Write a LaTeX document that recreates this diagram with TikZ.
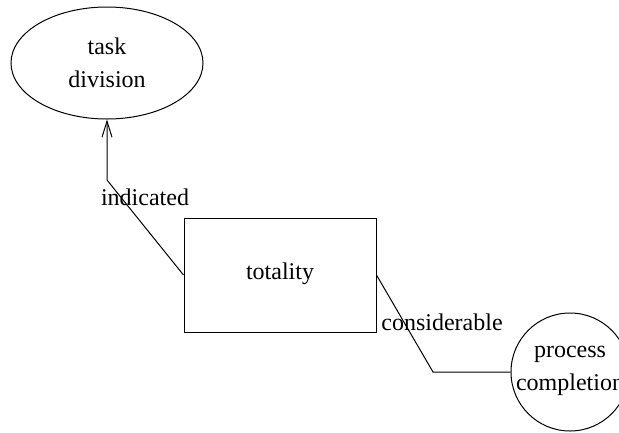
\documentclass[tikz,border=0pt]{standalone}
\usepackage{fontspec}
\setmainfont{Liberation Serif}
\usetikzlibrary{shapes.geometric,arrows.meta}
\begin{document}
\begin{tikzpicture}[x=1pt,y=-1pt,
  lbl/.style={font=\fontsize{24}{33}\selectfont, inner sep=0pt, align=center},
  conn/.style={line width=1pt, black},
  shp/.style={draw, line width=1pt, inner sep=0pt}]
\useasboundingbox (0,0) rectangle (619,432);
\clip (0,0) rectangle (619,432);
\node[shp, ellipse, minimum width=192pt, minimum height=112pt] (task) at (107,63) {};
\node[lbl] at (107,63) {task\\division};
\node[shp, rectangle, minimum width=192pt, minimum height=114pt] (tot) at (280,275) {};
\node[lbl] at (280,274) {totality};
\node[shp, circle, minimum size=118pt] (proc) at (570,372) {};
\node[lbl] at (570,371) {process\\completion};
\coordinate (b1) at (107,180);
\coordinate (b2) at (433,372);
\draw[conn, -{Straight Barb[length=16pt,width=10pt]}] (tot.west) -- (b1) -- (task.south);
\draw[conn] (tot.east) -- (b2) -- (proc.west);
\node[lbl] (l1) at (145,197) {indicated};
\node[lbl] (l2) at (442,322) {considerable};
\end{tikzpicture}
\end{document}
